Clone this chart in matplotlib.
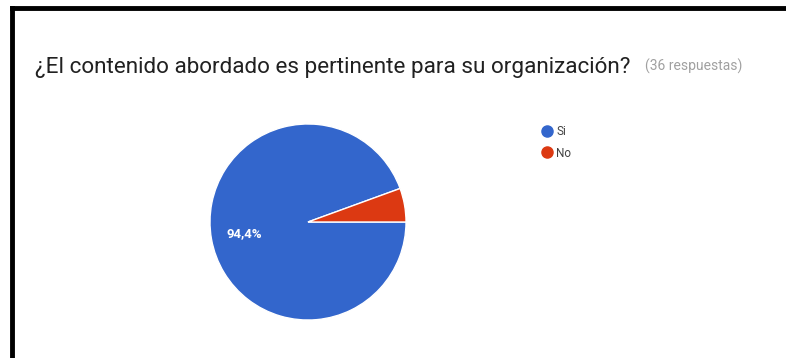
import matplotlib
matplotlib.use("Agg")
import matplotlib.pyplot as plt
from matplotlib.lines import Line2D

labels = ["Si", "No"]
counts = [34, 2]
colors = ["#3366CC", "#DC3912"]
title = "¿El contenido abordado es pertinente para su organización?"
subtitle = "(36 respuestas)"

plt.rcParams["font.family"] = ["Roboto", "DejaVu Sans"]

fig = plt.figure(figsize=(7.86, 3.58), dpi=100)
fig.patch.set_facecolor("white")

# black frame on left and top only
fig.add_artist(Line2D([0.0153, 0.0153], [0, 0.978], color="black", lw=3.5,
                      transform=fig.transFigure, solid_capstyle="projecting"))
fig.add_artist(Line2D([0.0153, 1.0], [0.978, 0.978], color="black", lw=3.5,
                      transform=fig.transFigure, solid_capstyle="projecting"))

fig.text(35 / 786, 1 - 73 / 358, title, fontsize=16.2, color="#212121", va="baseline")
fig.text(645 / 786, 1 - 71 / 358, subtitle, fontsize=10, color="#a0a0a0", va="baseline")

ax = fig.add_axes([(308 - 99) / 786, (358 - 222 - 99) / 358, 198 / 786, 198 / 358])
ax.set_aspect("equal")


def pct_label(p):
    return f"{p:.1f}%".replace(".", ",") if p > 10 else ""


wedges, texts, autotexts = ax.pie(
    counts, colors=colors, startangle=20, counterclock=True,
    autopct=pct_label, pctdistance=0.66,
    wedgeprops=dict(edgecolor="white", linewidth=1),
    textprops=dict(color="white", fontsize=9.5, fontweight="bold"),
)
ax.set_xlim(-1.01, 1.01)
ax.set_ylim(-1.01, 1.01)

handles = [Line2D([0], [0], marker="o", linestyle="", markersize=8,
                  markerfacecolor=c, markeredgecolor=c) for c in colors]
fig.legend(handles, labels, loc="upper left", bbox_to_anchor=(535 / 786, 1 - 120 / 358),
           frameon=False, fontsize=8.5, handletextpad=0.2, labelspacing=0.75,
           handlelength=1.2, borderaxespad=0, labelcolor="#424242")

fig.savefig("out.png", dpi=100, facecolor="white")
